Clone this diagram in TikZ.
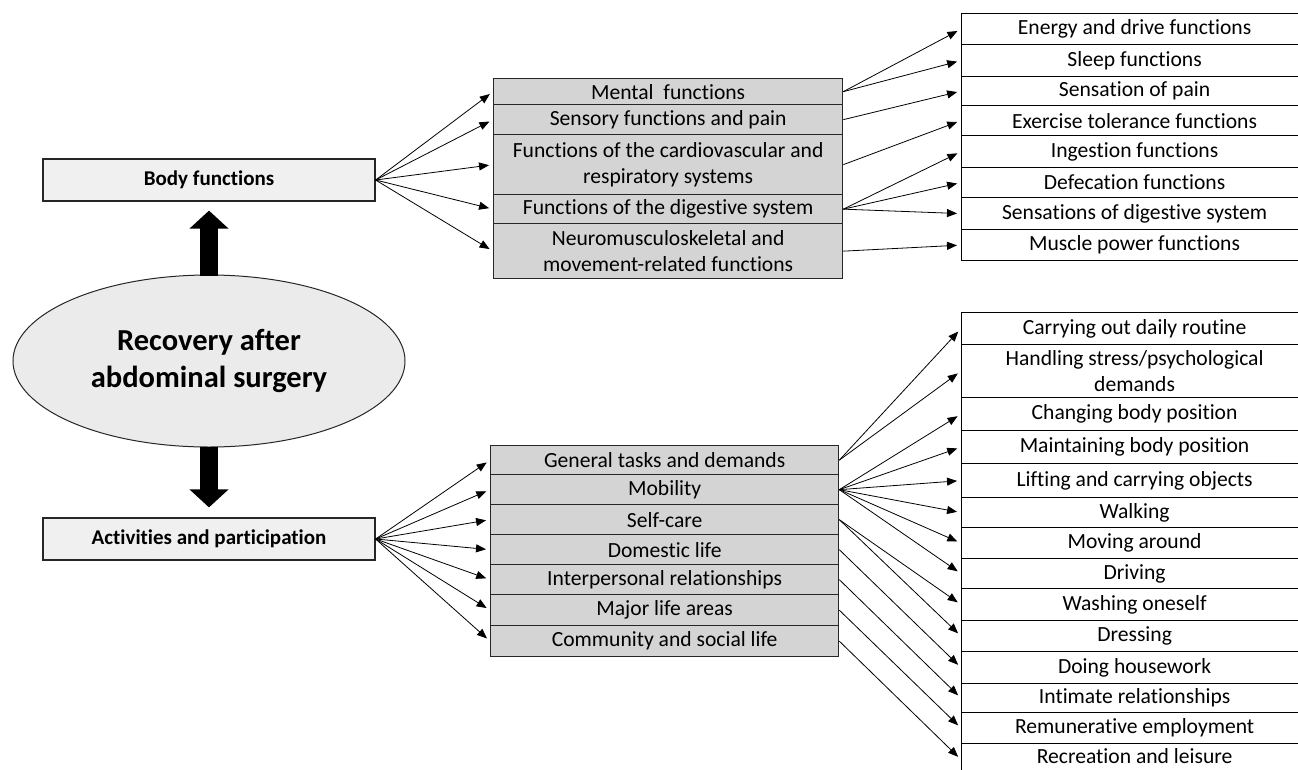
\documentclass[tikz,border=0pt]{standalone}
\usepackage{fontspec}
\setmainfont{Carlito}[Ligatures=NoCommon]
\usetikzlibrary{arrows.meta,positioning,shapes.geometric}
\definecolor{midgrey}{HTML}{D4D4D4}
\definecolor{lightgrey}{HTML}{F0F0F0}
\definecolor{ellgrey}{HTML}{EBEBEB}
\definecolor{edgec}{HTML}{262626}

\begin{document}
\begin{tikzpicture}[x=1pt,y=-1pt,
  every node/.style={font=\fontsize{21.6}{26}\selectfont},
  mainbox/.style={draw=edgec,line width=1.2pt,fill=lightgrey,minimum width=332pt,
    minimum height=42pt,inner sep=0pt,font=\fontsize{21}{26}\selectfont\bfseries},
  midrow/.style={draw=edgec,line width=1.3pt,fill=midgrey,minimum width=349pt,
    inner sep=0pt,align=center,anchor=north west},
  leafrow/.style={draw=black,line width=1.2pt,fill=white,minimum width=346pt,
    inner sep=0pt,align=center,anchor=north west},
  link/.style={line width=0.8pt,-{Triangle[length=10pt,width=8pt]},shorten >=4pt},
  bigarrow/.style={line width=18pt,-{Triangle[length=18pt,width=38pt]}},
]
\useasboundingbox (0,0) rectangle (1298,769);

% centre and the two components
\node[ellipse,draw=edgec,line width=1pt,fill=ellgrey,minimum width=392pt,
  minimum height=172pt,align=center,font=\fontsize{30.5}{37}\selectfont\bfseries]
  (rec) at (209,361) {Recovery after\\abdominal surgery};
\node[mainbox] (bf) at (209,180) {Body functions};
\node[mainbox] (ap) at (209,539) {Activities and participation};

\draw[bigarrow,shorten <=-1pt,shorten >=9pt] (rec.north) -- (bf.south);
\draw[bigarrow,shorten <=-1pt,shorten >=10pt] (rec.south) -- (ap.north);

% body functions: chapters
\node[midrow,minimum height=26pt] (mf) at (493,78) {Mental\ \ functions};
\node[midrow,minimum height=30pt] (sf) at (493,104) {Sensory functions and pain};
\node[midrow,minimum height=60pt] (cf) at (493,134)
  {Functions of the cardiovascular and\\respiratory systems};
\node[midrow,minimum height=29pt] (df) at (493,194) {Functions of the digestive system};
\node[midrow,minimum height=55pt] (nf) at (493,223)
  {Neuromusculoskeletal and\\movement-related functions};

% body functions: categories
\node[leafrow,minimum height=31pt] (energy) at (961,13) {Energy and drive functions};
\node[leafrow,minimum height=32pt] (sleep) at (961,44) {Sleep functions};
\node[leafrow,minimum height=29pt] (pain) at (961,76) {Sensation of pain};
\node[leafrow,minimum height=30pt] (exercise) at (961,105) {Exercise tolerance functions};
\node[leafrow,minimum height=32pt] (ingestion) at (961,135) {Ingestion functions};
\node[leafrow,minimum height=30pt] (defecation) at (961,167) {Defecation functions};
\node[leafrow,minimum height=32pt] (digsens) at (961,197) {Sensations of digestive system};
\node[leafrow,minimum height=31pt] (muscle) at (961,229) {Muscle power functions};

% activities and participation: chapters
\node[midrow,minimum width=348pt,minimum height=29pt] (gt) at (490,445) {General tasks and demands};
\node[midrow,minimum width=348pt,minimum height=30pt] (mob) at (490,474) {Mobility};
\node[midrow,minimum width=348pt,minimum height=30pt] (sc) at (490,504) {Self-care};
\node[midrow,minimum width=348pt,minimum height=30pt] (dl) at (490,534) {Domestic life};
\node[midrow,minimum width=348pt,minimum height=30pt] (ir) at (490,564) {Interpersonal relationships};
\node[midrow,minimum width=348pt,minimum height=31pt] (ml) at (490,594) {Major life areas};
\node[midrow,minimum width=348pt,minimum height=31pt] (cs) at (490,625) {Community and social life};

% activities and participation: categories
\node[leafrow,minimum height=32pt] (routine) at (961,312) {Carrying out daily routine};
\node[leafrow,minimum height=53pt] (stress) at (961,344)
  {Handling stress/psychological\\demands};
\node[leafrow,minimum height=33pt] (changing) at (961,397) {Changing body position};
\node[leafrow,minimum height=33pt] (maintaining) at (961,430) {Maintaining body position};
\node[leafrow,minimum height=34pt] (lifting) at (961,463) {Lifting and carrying objects};
\node[leafrow,minimum height=30pt] (walking) at (961,497) {Walking};
\node[leafrow,minimum height=31pt] (moving) at (961,527) {Moving around};
\node[leafrow,minimum height=30pt] (driving) at (961,558) {Driving};
\node[leafrow,minimum height=32pt] (washing) at (961,588) {Washing oneself};
\node[leafrow,minimum height=31pt] (dressing) at (961,620) {Dressing};
\node[leafrow,minimum height=32pt] (housework) at (961,651) {Doing housework};
\node[leafrow,minimum height=29pt] (intimate) at (961,683) {Intimate relationships};
\node[leafrow,minimum height=31pt] (remun) at (961,712) {Remunerative employment};
\node[leafrow,minimum height=32pt,text depth=7pt] (leisure) at (961,743) {Recreation and leisure};

% fans
\foreach \t in {mf,sf,cf,df,nf}
  \draw[link] (bf.east) -- (\t.west);
\foreach \t in {gt,mob,sc,dl,ir,ml,cs}
  \draw[link] (ap.east) -- (\t.west);
\foreach \s/\t in {mf/energy,mf/sleep,sf/pain,cf/exercise,df/ingestion,df/defecation,
    df/digsens,nf/muscle,gt/routine,gt/stress,mob/changing,mob/maintaining,mob/lifting,
    mob/walking,mob/moving,mob/driving,sc/washing,sc/dressing,dl/housework,
    ir/intimate,ml/remun,cs/leisure}
  \draw[link] (\s.east) -- (\t.west);
\end{tikzpicture}
\end{document}
